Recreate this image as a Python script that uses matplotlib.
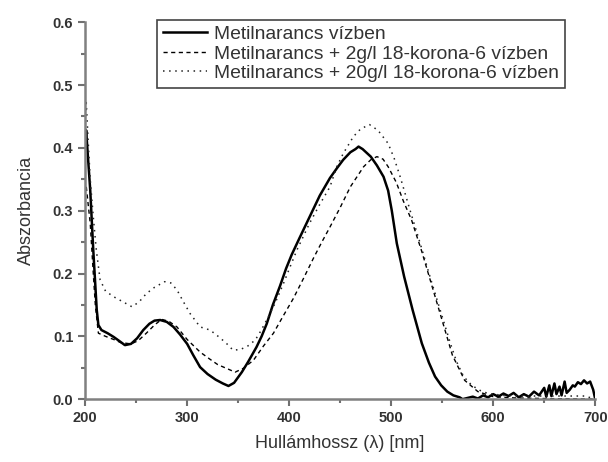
import matplotlib
matplotlib.use("Agg")
import matplotlib.pyplot as plt
import numpy as np
from matplotlib.ticker import MultipleLocator

plt.rcParams['font.family'] = ['Liberation Sans', 'DejaVu Sans']

# Metilnarancs vizben (solid)
wl_water = [200, 201, 203, 205, 208, 211.4, 213, 216, 222, 228, 234, 239, 245, 251, 257,
            263, 268, 273.5, 280, 286.6, 293, 300, 306, 312.7, 320, 328, 335, 340.5, 346,
            353.6, 360, 368, 373, 378, 384, 391, 397, 402.5, 410, 420, 430, 440, 447, 453,
            460, 465, 468, 472, 476, 480, 486, 492.5, 497, 500.6, 505.5, 512.7, 521, 530,
            537, 543, 549, 555, 561, 567, 570,
            575, 580, 585, 590, 595, 600, 605, 610, 615, 620, 625, 630, 635, 640, 645,
            650, 652, 655, 657, 660, 662, 665, 667, 670, 672, 675, 678, 680, 683, 686,
            689, 692, 695, 698, 700]
abs_water = [0.40, 0.428, 0.38, 0.333, 0.237, 0.142, 0.118, 0.110, 0.105, 0.099, 0.092, 0.086,
             0.088, 0.097, 0.110, 0.120, 0.125, 0.126, 0.123, 0.115, 0.103, 0.088, 0.070,
             0.051, 0.040, 0.031, 0.025, 0.021, 0.026, 0.043, 0.060, 0.083, 0.100, 0.120,
             0.150, 0.180, 0.208, 0.230, 0.256, 0.290, 0.324, 0.352, 0.368, 0.381, 0.393,
             0.398, 0.402, 0.398, 0.392, 0.386, 0.372, 0.354, 0.332, 0.300, 0.248, 0.195,
             0.142, 0.089, 0.058, 0.036, 0.022, 0.012, 0.006, 0.003, 0.0,
             0.002, 0.004, 0.001, 0.006, 0.003, 0.008, 0.004, 0.009, 0.005, 0.010, 0.003,
             0.008, 0.004, 0.012, 0.006, 0.018, 0.004, 0.022, 0.005, 0.025, 0.008, 0.020,
             0.006, 0.028, 0.010, 0.015, 0.022, 0.020, 0.027, 0.024, 0.030, 0.025, 0.028,
             0.015, 0.0]

# Metilnarancs + 2g/l 18-korona-6 vizben (dashed)
wl_2g = [200, 201, 203, 205, 208, 210, 213, 220, 228, 235, 245, 252, 260, 268, 275, 282,
         290, 300, 312.7, 322, 330, 340, 347, 355, 365, 375, 384.6, 394, 404, 414, 424,
         432, 440, 450, 460, 473, 480, 486, 492, 497, 505, 512, 520, 530, 540, 550, 560,
         572, 585, 600, 620, 650, 700]
abs_2g = [0.33, 0.34, 0.31, 0.28, 0.20, 0.15, 0.105, 0.100, 0.095, 0.090, 0.088, 0.093,
          0.105, 0.118, 0.127, 0.124, 0.115, 0.095, 0.075, 0.064, 0.055, 0.048, 0.043,
          0.049, 0.062, 0.085, 0.105, 0.132, 0.160, 0.192, 0.225, 0.250, 0.274, 0.305,
          0.338, 0.370, 0.381, 0.386, 0.382, 0.370, 0.345, 0.315, 0.285, 0.235, 0.180,
          0.125, 0.070, 0.030, 0.012, 0.004, 0.002, 0.001, 0.0]

# Metilnarancs + 20g/l 18-korona-6 vizben (dotted)
wl_20g = [200, 201, 203, 205, 208, 211, 214.7, 220, 228, 237, 246, 253, 260, 268, 278,
          284, 290, 296, 303, 312.7, 322.5, 332, 339, 345, 352, 359, 366.7, 372, 378,
          386, 394.4, 400, 407.5, 420, 430, 440, 446.7, 453, 463, 470, 478.7, 487, 497,
          503, 508.8, 518.6, 528.4, 538, 548, 558, 564, 571, 579, 587, 595, 610, 630,
          660, 690, 700]
abs_20g = [0.44, 0.476, 0.41, 0.35, 0.29, 0.237, 0.190, 0.172, 0.163, 0.155, 0.147, 0.155,
           0.168, 0.178, 0.187, 0.185, 0.174, 0.156, 0.136, 0.115, 0.110, 0.098, 0.088,
           0.078, 0.079, 0.084, 0.094, 0.108, 0.126, 0.152, 0.184, 0.207, 0.237, 0.280,
           0.310, 0.338, 0.370, 0.391, 0.418, 0.430, 0.437, 0.428, 0.407, 0.383, 0.354,
           0.300, 0.248, 0.195, 0.142, 0.089, 0.060, 0.036, 0.022, 0.014, 0.009, 0.006,
           0.005, 0.005, 0.005, 0.0]

labels = ["Metilnarancs vízben",
          "Metilnarancs + 2g/l 18-korona-6 vízben",
          "Metilnarancs + 20g/l 18-korona-6 vízben"]

fig = plt.figure(figsize=(6.08, 4.62), dpi=100)
ax = fig.add_axes([0.14, 0.136, 0.839, 0.816])

ax.plot(wl_water, abs_water, color='black', lw=1.8, label=labels[0])
ax.plot(wl_2g, abs_2g, color='black', lw=1.0, ls=(0, (3, 2.5)), label=labels[1])
ax.plot(wl_20g, abs_20g, color='#222222', lw=1.1, ls=(0, (1, 3)), label=labels[2])

ax.set_xlim(200, 700)
ax.set_ylim(0, 0.6)
ax.xaxis.set_major_locator(MultipleLocator(100))
ax.xaxis.set_minor_locator(MultipleLocator(50))
ax.yaxis.set_major_locator(MultipleLocator(0.1))
ax.yaxis.set_minor_locator(MultipleLocator(0.05))
ax.yaxis.set_major_formatter(plt.FormatStrFormatter('%.1f'))

for s in ['top', 'right']:
    ax.spines[s].set_visible(False)
for s in ['left', 'bottom']:
    ax.spines[s].set_color('#808080')
    ax.spines[s].set_linewidth(1.8)
ax.tick_params(which='both', direction='out', color='#707070', width=1.5,
               labelsize=10.5, labelcolor='#333333')
ax.tick_params(which='major', length=5)
ax.tick_params(which='minor', length=3)
for t in ax.get_xticklabels() + ax.get_yticklabels():
    t.set_fontweight('bold')

ax.set_xlabel('Hullámhossz (λ) [nm]', fontsize=13, color='#333333', labelpad=7)
ax.set_ylabel('Abszorbancia', fontsize=13, color='#333333', labelpad=13)

leg = ax.legend(loc='upper left', bbox_to_anchor=(0.141, 1.006), fontsize=13.9,
                handlelength=2.3, handletextpad=0.35, borderpad=0.3, labelspacing=0.1,
                borderaxespad=0, fancybox=False, framealpha=1)
leg.get_frame().set_edgecolor('#444444')
leg.get_frame().set_linewidth(1.2)
for t in leg.get_texts():
    t.set_color('#333333')

fig.savefig('out.png', dpi=100)
